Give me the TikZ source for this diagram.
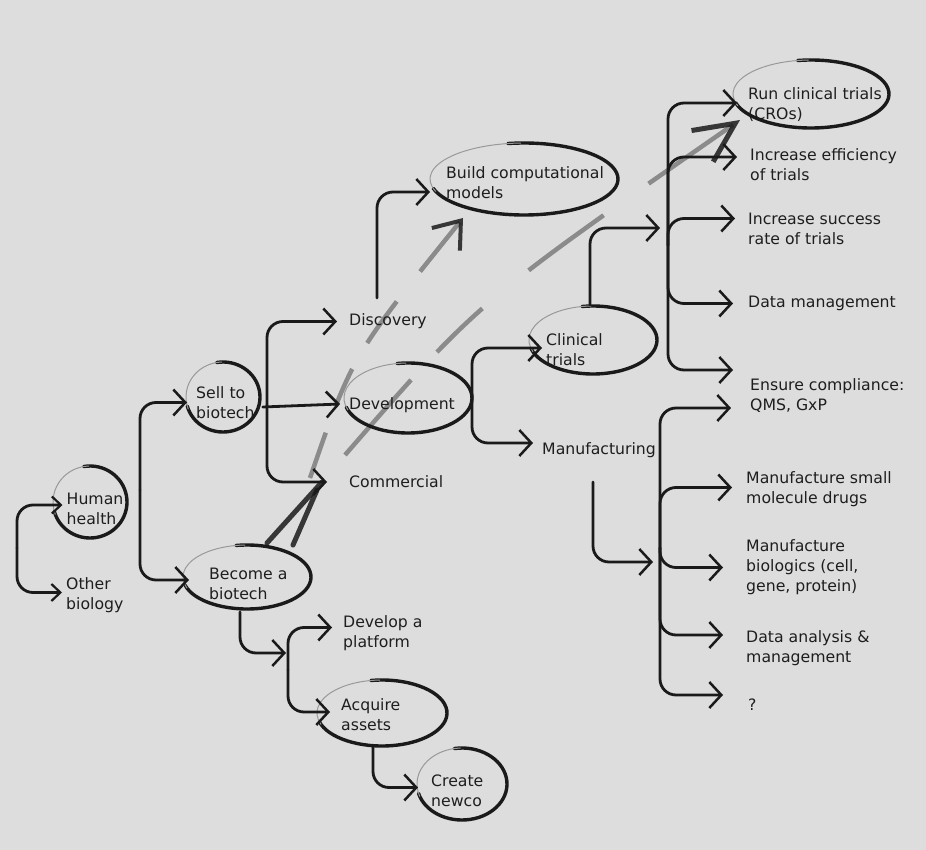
\documentclass[tikz,border=0pt]{standalone}
\usepackage{fontspec}
\setmainfont{DejaVu Sans}
\usetikzlibrary{arrows.meta}
\definecolor{bg}{RGB}{221,221,221}
\definecolor{ink}{RGB}{26,26,26}
\definecolor{txt}{RGB}{30,30,30}
\definecolor{hlgray}{RGB}{125,125,125}
\newcommand{\sketchell}[4]{%
  \draw[ellink] (#1,#2) ++(-100:#3 and #4) arc[start angle=-100,end angle=165,x radius=#3,y radius=#4];
  \draw[ellfaint] (#1,#2) ++(160:#3 and #4) arc[start angle=160,end angle=268,x radius=#3,y radius=#4];
}
\begin{document}
\begin{tikzpicture}[x=1pt,y=-1pt,
  lbl/.style={anchor=west, inner sep=0pt, align=left, font=\fontsize{15.7}{20}\selectfont, text=txt},
  conn/.style={draw=ink, line width=2.8pt, rounded corners=16pt, line cap=round,
    -{Straight Barb[length=12pt,width=26pt,line width=2.5pt]}},
  connsmall/.style={conn, -{Straight Barb[length=9pt,width=17pt,line width=2.2pt]}},
  ellink/.style={draw=ink, line width=3.4pt, line cap=round},
  ellfaint/.style={draw=black!40, line width=1pt, line cap=round},
  hl/.style={draw=hlgray, line width=4.5pt, opacity=0.85},
  thk/.style={draw=ink, line width=5pt, line cap=round, opacity=0.85}
]
\useasboundingbox (0,0) rectangle (926,850);
\fill[bg] (0,0) rectangle (926,850);

% ---------- highlighted path strokes ----------
\coordinate (hA1) at (310,478);
\coordinate (hA2) at (463,218);
\coordinate (hB1) at (345,455);
\coordinate (hB2) at (740,120);
\draw[hl, dash pattern=on 48pt off 28pt on 41pt off 30pt on 51pt off 38pt on 100pt,
  -{Straight Barb[length=24pt,width=36pt,color=ink,line width=4pt]}]
  (hA1) .. controls (352,356) .. (hA2);
\draw[hl, dash pattern=on 100pt off 38pt on 63pt off 60pt on 93pt off 55pt on 200pt,
  -{Straight Barb[length=40pt,width=38pt,color=ink,line width=5pt]}]
  (hB1) .. controls (478,302) .. (hB2);

% ---------- text nodes ----------
\node[lbl] (hh) at (66.5,509) {Human\\health};
\node[lbl] (ob) at (66,595.5) {Other\\biology};
\node[lbl] (sell) at (196,402.5) {Sell to\\biotech};
\node[lbl] (bec) at (209,584) {Become a\\biotech};
\node[lbl] (disc) at (349,321.5) {Discovery};
\node[lbl] (dev) at (349,405) {Development};
\node[lbl] (comm) at (349,482) {Commercial};
\node[lbl] (build) at (446,183) {Build computational\\models};
\node[lbl] (clin) at (546,350) {Clinical\\trials};
\node[lbl] (manu) at (542,450) {Manufacturing};
\node[lbl] (run) at (748,105) {Run clinical trials\\(CROs)};
\node[lbl] (eff) at (750,165) {Increase efficiency\\of trials};
\node[lbl] (succ) at (748,228.5) {Increase success\\rate of trials};
\node[lbl] (data) at (748,303.5) {Data management};
\node[lbl] (ens) at (750,396) {Ensure compliance:\\QMS, GxP};
\node[lbl] (small) at (746,489.5) {Manufacture small\\molecule drugs};
\node[lbl] (bio) at (746,567.5) {Manufacture\\biologics (cell,\\gene, protein)};
\node[lbl] (anal) at (746,648) {Data analysis \&\\management};
\node[lbl] (q) at (748,705) {?};
\node[lbl] (plat) at (343,633.5) {Develop a\\platform};
\node[lbl] (acq) at (341,715) {Acquire\\assets};
\node[lbl] (newco) at (431,790.5) {Create\\newco};

% ---------- ellipses ----------
\sketchell{90}{502}{37}{36}
\sketchell{223}{397}{37}{35}
\sketchell{247}{577}{64}{32}
\sketchell{408}{398}{64}{35}
\sketchell{524}{179}{94}{36}
\sketchell{593}{340}{64}{34}
\sketchell{811}{94}{78}{34}
\sketchell{382}{713}{65}{33}
\sketchell{462}{784}{45}{36}

% ---------- connectors ----------
\coordinate (j1) at (17,548);
\draw[connsmall] (j1) |- ([xshift=-4pt,yshift=4pt]hh.west);
\draw[connsmall] (j1) |- ([xshift=-4pt,yshift=3pt]ob.west);

\coordinate (j2) at (140,490);
\draw[conn] (j2) |- ([xshift=-9pt]sell.west);
\draw[conn] (j2) |- ([xshift=-20pt,yshift=4pt]bec.west);

\coordinate (j3) at (267,405);
\draw[conn] (j3) |- ([xshift=-12pt]disc.west);
\draw[conn] (j3) |- ([xshift=-22pt]comm.west);
\draw[conn] ([xshift=8pt,yshift=-4.5pt]sell.east) -- ([xshift=-9pt,yshift=1pt]dev.west);

\coordinate (j4) at (377,298);
\draw[conn] (j4) |- ([xshift=-16pt,yshift=-9pt]build.west);

\coordinate (j5) at (472,398);
\draw[conn] (j5) |- ([xshift=-4pt,yshift=2pt]clin.west);
\draw[conn] (j5) |- ([xshift=-9pt,yshift=7pt]manu.west);

\coordinate (j6) at (590,305);
\coordinate (k6) at (660,228);
\draw[conn] (j6) |- (k6);

\coordinate (j7) at (668,245);
\draw[conn] (j7) |- ([xshift=-11pt,yshift=2pt]run.west);
\draw[conn] (j7) |- ([xshift=-13pt,yshift=8pt]eff.west);
\draw[conn] (j7) |- ([xshift=-13pt,yshift=10pt]succ.west);
\draw[conn] (j7) |- ([xshift=-15pt]data.west);
\draw[conn] (j7) |- ([xshift=-17pt,yshift=26pt]ens.west);

\coordinate (j8) at (593,482);
\coordinate (k8) at (653,562);
\draw[conn] (j8) |- (k8);

\coordinate (j9) at (660,548);
\draw[conn] (j9) |- ([xshift=-19pt,yshift=-12pt]ens.west);
\draw[conn] (j9) |- ([xshift=-14pt,yshift=2pt]small.west);
\draw[conn] (j9) |- ([xshift=-23pt]bio.west);
\draw[conn] (j9) |- ([xshift=-23pt,yshift=13pt]anal.west);
\draw[conn] (j9) |- ([xshift=-25pt,yshift=10pt]q.west);

\coordinate (j10) at (240,612);
\coordinate (k10) at (286,653);
\draw[conn] (j10) |- (k10);

\coordinate (j11) at (288,670);
\draw[conn] (j11) |- ([xshift=-11pt,yshift=6pt]plat.west);
\draw[conn] (j11) |- ([xshift=-11pt,yshift=3pt]acq.west);

\coordinate (j12) at (373,747);
\draw[conn] (j12) |- ([xshift=-13pt,yshift=3pt]newco.west);

% ---------- heavy strokes from Become a biotech to Commercial ----------
\coordinate (s1) at (267,543);
\coordinate (s2) at (293,545);
\draw[thk] (s1) -- ([xshift=-27pt]comm.west);
\draw[thk] (s2) -- ([xshift=-32pt,yshift=-8pt]comm.west);
\end{tikzpicture}
\end{document}
